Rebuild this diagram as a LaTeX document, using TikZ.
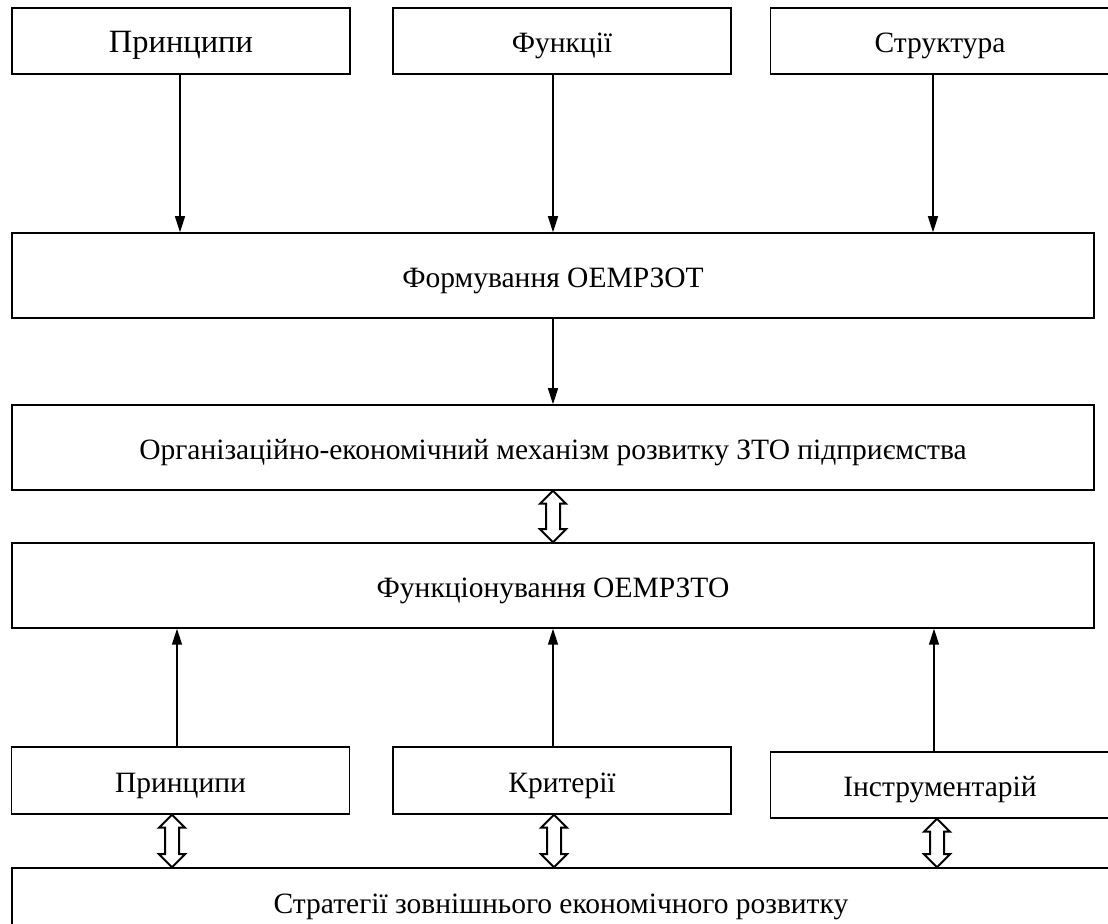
\documentclass[tikz,border=0pt]{standalone}
\usepackage{fontspec}
\setmainfont{Liberation Serif}
\usepackage{tikz}
\usetikzlibrary{arrows.meta, positioning, calc}

% hollow double-headed arrow between two points
\newcommand{\hollowdbl}[2]{%
  \draw[line width=0.8pt, fill=white, line join=miter] let \p1=(#1), \p2=(#2) in
    (\x1,\y1) -- (\x1+5.2pt,\y1-5.2pt) -- (\x1+2.8pt,\y1-5.2pt)
    -- (\x1+2.8pt,\y2+5.2pt) -- (\x1+5.2pt,\y2+5.2pt) -- (\x1,\y2)
    -- (\x1-5.2pt,\y2+5.2pt) -- (\x1-2.8pt,\y2+5.2pt)
    -- (\x1-2.8pt,\y1-5.2pt) -- (\x1-5.2pt,\y1-5.2pt) -- cycle;}

\begin{document}
\begin{tikzpicture}[x=0.4pt, y=-0.4pt,
  box/.style={draw, line width=0.6pt, inner sep=0pt, text height=9.5pt, text depth=0pt,
    font=\fontsize{11.8}{14}\selectfont},
  topbox/.style={box, minimum width=135.2pt, minimum height=26.4pt},
  widebox/.style={box, minimum width=432.8pt, minimum height=34pt},
  link/.style={line width=0.6pt, -{Triangle[length=6.4pt, width=4pt]}}]
\useasboundingbox (0,0) rectangle (1108,924);
% upper row
\node[topbox, font=\fontsize{13}{15}\selectfont] (prin) at (181,41) {Принципи};
\node[topbox] (func) at (562,41) {Функції};
\node[topbox, minimum width=135.6pt] (struct) at (940,41) {Структура};
% main boxes
\node[widebox] (form) at (553,275.5) {Формування ОЕМРЗОТ};
\node[widebox] (mech) at (553,447.5) {Організаційно-економічний механізм розвитку ЗТО підприємства};
\node[widebox] (oper) at (553,585.5) {Функціонування ОЕМРЗТО};
% lower row
\node[topbox, minimum height=26.8pt] (prin2) at (180.5,780.5) {Принципи};
\node[topbox, minimum height=26.8pt] (crit) at (562,780.5) {Критерії};
\node[topbox, minimum width=135.6pt] (tools) at (940,785) {Інструментарій};
\node[box, minimum width=439.2pt, minimum height=27.2pt] (strat) at (561,902) {Стратегії зовнішнього економічного розвитку};
% arrows down
\draw[link] ([xshift=-0.4pt]prin.south) -- ([xshift=-0.4pt]prin.south |- form.north);
\draw[link] ([xshift=-3.6pt]func.south) -- ([xshift=-3.6pt]func.south |- form.north);
\draw[link] ([xshift=-2.8pt]struct.south) -- ([xshift=-2.8pt]struct.south |- form.north);
\draw[link] (form.south) -- (mech.north);
% arrows up
\draw[link] ([xshift=-1.4pt]prin2.north) -- ([xshift=-1.4pt]prin2.north |- oper.south);
\draw[link] ([xshift=-3.6pt]crit.north) -- ([xshift=-3.6pt]crit.north |- oper.south);
\draw[link] ([xshift=-2.4pt]tools.north) -- ([xshift=-2.4pt]tools.north |- oper.south);
% two-way links
\hollowdbl{mech.south}{oper.north}
\hollowdbl{[xshift=-3.4pt]prin2.south}{[xshift=-3.4pt]prin2.south |- strat.north}
\hollowdbl{[xshift=-3.2pt]crit.south}{[xshift=-3.2pt]crit.south |- strat.north}
\hollowdbl{[xshift=-1.2pt]tools.south}{[xshift=-1.2pt]tools.south |- strat.north}
\end{tikzpicture}
\end{document}
